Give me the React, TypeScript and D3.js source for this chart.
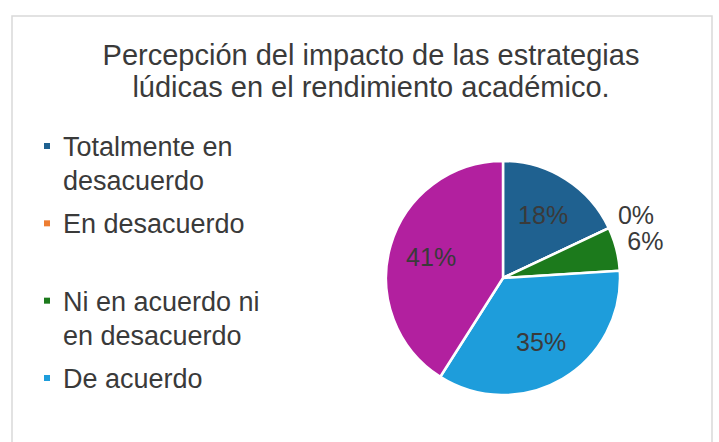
import React from "react";
import * as d3 from "d3";

const categories = [
  "Totalmente en desacuerdo",
  "En desacuerdo",
  "Ni en acuerdo ni en desacuerdo",
  "De acuerdo",
  "Totalmente de acuerdo",
];
const values = [18, 0, 6, 35, 41];
const colors = ["#1f6190", "#ed7d31", "#1c7a1c", "#1e9ddb", "#b2209f"];
const legendLines = [
  ["Totalmente en", "desacuerdo"],
  ["En desacuerdo"],
  ["Ni en acuerdo ni", "en desacuerdo"],
  ["De acuerdo"],
];
const titleLines = [
  "Percepción del impacto de las estrategias",
  "lúdicas en el rendimiento académico.",
];

const W = 719;
const H = 442;
const FONT = "'Liberation Sans', Arial, sans-serif";

export default function App() {
  const cx = 503;
  const cy = 278;
  const r = 117;
  const pie = d3
    .pie<number>()
    .sort(null)
    .value((d) => d)(values);
  const arc = d3.arc<d3.PieArcDatum<number>>().innerRadius(0).outerRadius(r);
  const inLabel = d3
    .arc<d3.PieArcDatum<number>>()
    .innerRadius(r * 0.64)
    .outerRadius(r * 0.64);
  const outLabel = d3
    .arc<d3.PieArcDatum<number>>()
    .innerRadius(r + 30)
    .outerRadius(r + 30);
  const total = d3.sum(values);

  const legendY = d3.scaleLinear().domain([0, 3]).range([156, 388]);

  return (
    <svg
      width={W}
      height={H}
      style={{ position: "absolute", left: 0, top: 0, background: "#fff" }}
      fontFamily={FONT}
    >
      <rect x={0} y={0} width={W} height={H} fill="#fff" />
      <rect
        x={12}
        y={16}
        width={700}
        height={440}
        fill="#fff"
        stroke="#d9d9d9"
        strokeWidth={1.5}
      />
      {titleLines.map((t, i) => (
        <text
          key={i}
          x={371}
          y={65 + i * 32}
          textAnchor="middle"
          fontSize={29}
          fill="#3a3a3a"
        >
          {t}
        </text>
      ))}
      <g transform={`translate(${cx},${cy})`}>
        {pie.map((p, i) => (
          <path
            key={i}
            d={arc(p) || ""}
            fill={colors[i]}
            stroke="#fff"
            strokeWidth={2.5}
            strokeLinejoin="round"
          />
        ))}
        {pie.map((p, i) => {
          const outside = values[i] < 10;
          const [x, y] = (outside ? outLabel : inLabel).centroid(p);
          return (
            <text
              key={i}
              x={x}
              y={y}
              dy="0.35em"
              textAnchor="middle"
              fontSize={25}
              fill="#3a3a3a"
            >
              {`${Math.round((values[i] / total) * 100)}%`}
            </text>
          );
        })}
      </g>
      {legendLines.map((lines, i) => {
        const by = legendY(i);
        return (
          <g key={i}>
            <rect x={44} y={by - 13} width={6} height={6} fill={colors[i]} />
            {lines.map((l, j) => (
              <text
                key={j}
                x={63}
                y={by + j * 34}
                fontSize={27}
                fill="#3a3a3a"
              >
                {l}
              </text>
            ))}
          </g>
        );
      })}
    </svg>
  );
}
